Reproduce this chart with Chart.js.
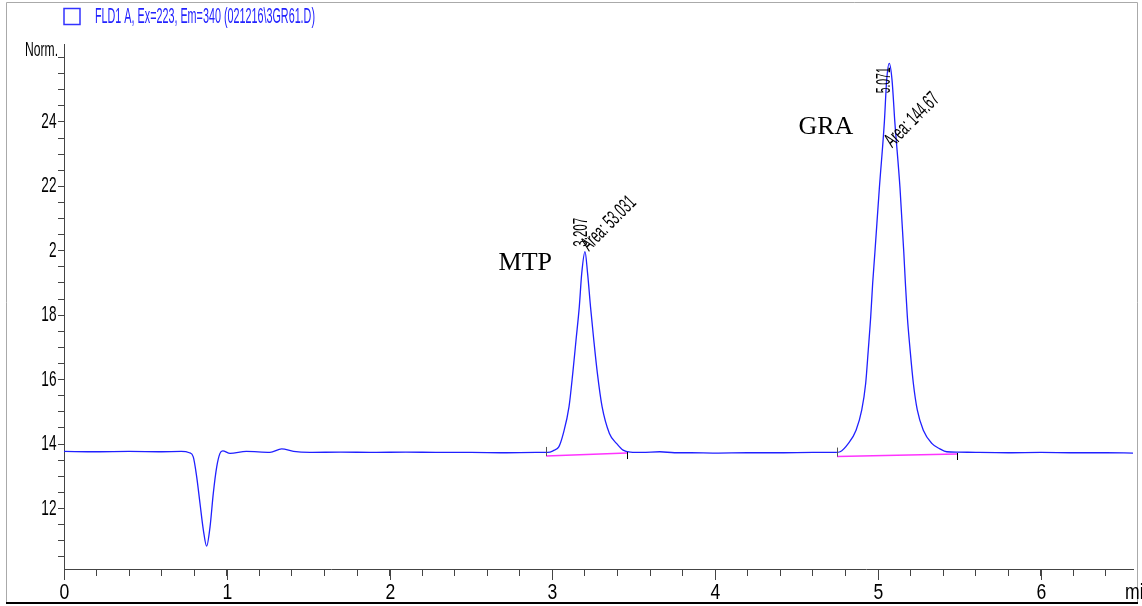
<!DOCTYPE html>
<html>
<head>
    <meta charset="UTF-8">
    <title>FLD1 A chromatogram</title>
    <style>
        body {
            margin: 0;
            padding: 0;
            background: #fff;
        }
        canvas {
            display: block;
        }
    </style>
</head>
<body>
    <canvas id="chrom" width="1142" height="606"></canvas>

    <script src="https://cdn.jsdelivr.net/npm/chart.js"></script>
    <script>
        // signal trace (time in min, signal in Norm.)
        const timeMin = [
            0.00, 0.20, 0.40, 0.60, 0.72, 0.77, 0.794, 0.815, 0.835, 0.856,
            0.876, 0.897, 0.917, 0.938, 0.958, 0.975, 1.02, 1.12, 1.265, 1.337,
            1.41, 1.51, 1.70, 1.90, 2.10, 2.30, 2.50, 2.70, 2.90, 2.97,
            3.004, 3.04, 3.067, 3.102, 3.125, 3.145, 3.165, 3.180, 3.200, 3.216,
            3.234, 3.254, 3.276, 3.305, 3.350, 3.395, 3.434, 3.48, 3.55, 3.66,
            3.75, 3.85, 4.00, 4.20, 4.40, 4.60, 4.74, 4.767, 4.818, 4.865,
            4.900, 4.924, 4.940, 4.955, 4.967, 4.981, 5.008, 5.039, 5.053, 5.069,
            5.086, 5.103, 5.135, 5.158, 5.168, 5.180, 5.197, 5.217, 5.241, 5.278,
            5.330, 5.38, 5.422, 5.49, 5.60, 5.80, 6.00, 6.20, 6.40, 6.566
        ];
        const signal = [
            1.377, 1.376, 1.377, 1.376, 1.377, 1.373, 1.360, 1.298, 1.217, 1.133,
            1.083, 1.143, 1.247, 1.329, 1.371, 1.379, 1.371, 1.377, 1.374, 1.385,
            1.377, 1.374, 1.375, 1.374, 1.375, 1.374, 1.374, 1.373, 1.374, 1.374,
            1.379, 1.392, 1.433, 1.516, 1.620, 1.723, 1.826, 1.930, 1.997, 1.930,
            1.826, 1.723, 1.620, 1.516, 1.433, 1.401, 1.381, 1.375, 1.374, 1.376,
            1.373, 1.373, 1.372, 1.373, 1.373, 1.374, 1.374, 1.376, 1.402, 1.443,
            1.506, 1.588, 1.692, 1.795, 1.899, 1.997, 2.194, 2.401, 2.530, 2.582,
            2.530, 2.401, 2.194, 1.997, 1.899, 1.795, 1.692, 1.588, 1.506, 1.443,
            1.402, 1.385, 1.376, 1.375, 1.374, 1.373, 1.374, 1.373, 1.373, 1.372
        ];

        // integrated peaks
        const peakNames = ['MTP', 'GRA'];
        const peakTimes = [3.200, 5.069];
        const peakTops = [1.997, 2.582];
        const peakRtLabels = ['3.207', '5.071'];
        const peakAreaLabels = ['Area: 53.031', 'Area: 144.67'];
        const baseStartT = [2.961, 4.748];
        const baseStartV = [1.363, 1.361];
        const baseEndT = [3.458, 5.485];
        const baseEndV = [1.372, 1.369];

        // axes
        const xMin = 0, xMax = 6.566;
        const yMin = 1.012, yMax = 2.642;
        const xMajor = [0, 1, 2, 3, 4, 5, 6];
        const xTickLabels = ['0', '1', '2', '3', '4', '5', '6'];
        const yMajor = [1.2, 1.4, 1.6, 1.8, 2.0, 2.2, 2.4];
        const yTickLabels = ['12', '14', '16', '18', '2', '22', '24'];
        const legendText = 'FLD1 A, Ex=223, Em=340 (021216\\3GR61.D)';

        const SANS = "'Liberation Sans', Arial, sans-serif";
        const SERIF = "'Liberation Serif', 'Times New Roman', serif";

        // squeezed text, like the instrument printout
        function narrow(ctx, text, x, y, o) {
            ctx.save();
            ctx.font = o.font;
            ctx.fillStyle = o.color || '#000';
            ctx.textAlign = o.align || 'left';
            ctx.textBaseline = o.baseline || 'middle';
            let sx = o.sx || 1;
            if (o.width) sx = o.width / ctx.measureText(text).width;
            ctx.translate(x, y);
            if (o.angle) ctx.rotate(o.angle);
            ctx.scale(sx, 1);
            ctx.fillText(text, 0, 0);
            ctx.restore();
        }

        const labelPlugin = {
            id: 'labels',
            afterDraw(chart) {
                const ctx = chart.ctx;
                const xs = chart.scales.x, ys = chart.scales.y;

                // page frame
                ctx.save();
                ctx.strokeStyle = '#aaa';
                ctx.lineWidth = 1;
                ctx.beginPath();
                ctx.moveTo(6.5, 603);
                ctx.lineTo(6.5, 2.5);
                ctx.lineTo(1137.5, 2.5);
                ctx.lineTo(1137.5, 603);
                ctx.stroke();
                ctx.strokeStyle = '#000';
                ctx.lineWidth = 2;
                ctx.beginPath();
                ctx.moveTo(6, 603);
                ctx.lineTo(1138, 603);
                ctx.stroke();

                // legend
                ctx.strokeStyle = '#3333ff';
                ctx.lineWidth = 1.5;
                ctx.strokeRect(64, 8.5, 16, 16);
                ctx.restore();
                narrow(ctx, legendText, 95, 17, { font: '22px ' + SANS, width: 220, color: '#2222ff' });

                // axis labels
                yMajor.forEach((v, i) => {
                    narrow(ctx, yTickLabels[i], 56.5, ys.getPixelForValue(v), { font: '22px ' + SANS, sx: 0.62, align: 'right' });
                });
                ctx.save();
                ctx.strokeStyle = '#444';
                ctx.lineWidth = 1;
                xMajor.forEach((v, i) => {
                    const px = Math.round(xs.getPixelForValue(v)) + 0.5;
                    ctx.beginPath();
                    ctx.moveTo(px, 569);
                    ctx.lineTo(px, 580);
                    ctx.stroke();
                    narrow(ctx, xTickLabels[i], px, 593, { font: '22px ' + SANS, sx: 0.8, align: 'center' });
                });
                ctx.restore();
                narrow(ctx, 'Norm.', 25, 50, { font: '20px ' + SANS, width: 33 });
                narrow(ctx, 'min', 1125, 593, { font: '22px ' + SANS, sx: 0.8 });

                // integration baselines: end ticks
                ctx.save();
                ctx.lineWidth = 1;
                baseStartT.forEach((t, i) => {
                    const x1 = Math.round(xs.getPixelForValue(t)) + 0.5;
                    const y1 = ys.getPixelForValue(baseStartV[i]);
                    ctx.strokeStyle = '#555';
                    ctx.beginPath();
                    ctx.moveTo(x1, y1 - 9);
                    ctx.lineTo(x1, y1);
                    ctx.stroke();
                    const x2 = Math.round(xs.getPixelForValue(baseEndT[i])) + 0.5;
                    const y2 = ys.getPixelForValue(baseEndV[i]);
                    ctx.strokeStyle = '#000';
                    ctx.beginPath();
                    ctx.moveTo(x2, y2 - 1);
                    ctx.lineTo(x2, y2 + 6);
                    ctx.stroke();
                });
                ctx.restore();

                // peak annotations
                const rtOffset = [[2, -5], [1, 30]];
                const areaOffset = [[4, 0], [3, 85]];
                const nameOffset = [[-33, 11], [-36, 64]];
                peakTimes.forEach((t, i) => {
                    const px = xs.getPixelForValue(t);
                    const py = ys.getPixelForValue(peakTops[i]);
                    narrow(ctx, peakRtLabels[i], px + rtOffset[i][0], py + rtOffset[i][1],
                        { font: '21px ' + SANS, width: i === 0 ? 29 : 26, angle: -Math.PI / 2, baseline: 'alphabetic' });
                    narrow(ctx, peakAreaLabels[i], px + areaOffset[i][0], py + areaOffset[i][1],
                        { font: '21px ' + SANS, width: 68, angle: -Math.PI / 4, baseline: 'alphabetic' });
                    narrow(ctx, peakNames[i], px + nameOffset[i][0], py + nameOffset[i][1],
                        { font: '26px ' + SERIF, align: 'right' });
                });
            }
        };

        const traceData = timeMin.map((t, i) => ({ x: t, y: signal[i] }));
        const baseDatasets = baseStartT.map((t, i) => ({
            data: [{ x: t, y: baseStartV[i] }, { x: baseEndT[i], y: baseEndV[i] }],
            borderColor: '#ff33ff',
            borderWidth: 1.5,
            pointRadius: 0
        }));

        new Chart(document.getElementById('chrom'), {
            type: 'line',
            data: {
                datasets: [{
                    label: legendText,
                    data: traceData,
                    borderColor: '#2020ff',
                    borderWidth: 1.3,
                    pointRadius: 0,
                    cubicInterpolationMode: 'monotone'
                }].concat(baseDatasets)
            },
            options: {
                responsive: false,
                animation: false,
                devicePixelRatio: 1,
                layout: { padding: { top: 44, right: 9, bottom: 0, left: 0 } },
                plugins: {
                    legend: { display: false },
                    tooltip: { enabled: false }
                },
                scales: {
                    x: {
                        type: 'linear',
                        min: xMin,
                        max: xMax,
                        afterBuildTicks: s => {
                            const t = [];
                            for (let v = 0; v <= xMax + 1e-9; v += 0.2) t.push({ value: Math.round(v * 10) / 10 });
                            s.ticks = t;
                        },
                        afterFit: s => { s.height = 37; },
                        ticks: { display: false },
                        grid: { drawOnChartArea: false, drawTicks: true, tickLength: 7, color: '#444', tickColor: '#444' },
                        border: { display: true, color: '#444', width: 1 }
                    },
                    y: {
                        type: 'linear',
                        min: yMin,
                        max: yMax,
                        afterBuildTicks: s => {
                            const t = [];
                            for (let k = 21; k <= 52; k++) t.push({ value: k * 0.05 });
                            s.ticks = t;
                        },
                        afterFit: s => { s.width = 64; },
                        ticks: { display: false },
                        grid: { drawOnChartArea: false, drawTicks: true, tickLength: 6, color: '#444', tickColor: '#444' },
                        border: { display: true, color: '#444', width: 1 }
                    }
                }
            },
            plugins: [labelPlugin]
        });
    </script>
</body>
</html>
